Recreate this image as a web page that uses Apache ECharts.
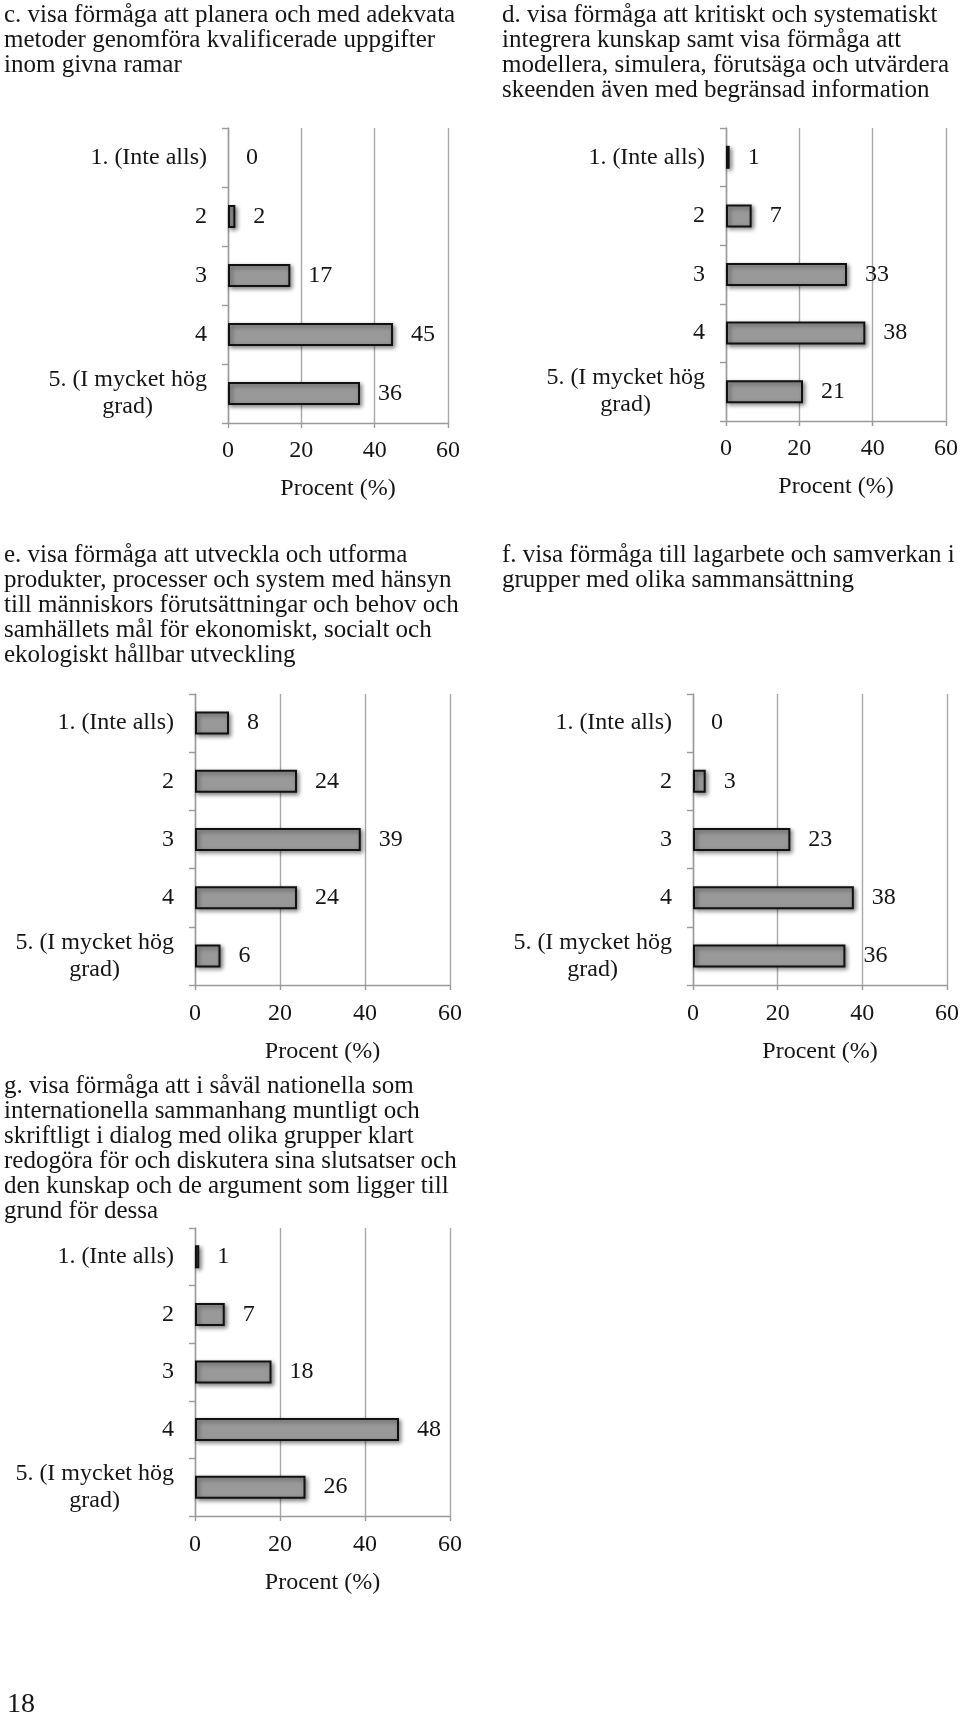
<!DOCTYPE html>
<html><head><meta charset="utf-8">
<script src="https://cdn.jsdelivr.net/npm/echarts@6/dist/echarts.min.js"></script>
<style>html,body{margin:0;padding:0;background:#fff}#chart{width:960px;height:1714px}</style>
</head><body><div id="chart"></div>
<script>
// ---- data ----
const categories = ['1. (Inte alls)', '2', '3', '4', '5. (I mycket hög\ngrad)'];
const xTicks = [0, 20, 40, 60];
const valuesC = [0, 2, 17, 45, 36];
const valuesD = [1, 7, 33, 38, 21];
const valuesE = [8, 24, 39, 24, 6];
const valuesF = [0, 3, 23, 38, 36];
const valuesG = [1, 7, 18, 48, 26];
const titleC = ['c. visa förmåga att planera och med adekvata', 'metoder genomföra kvalificerade uppgifter', 'inom givna ramar'];
const titleD = ['d. visa förmåga att kritiskt och systematiskt', 'integrera kunskap samt visa förmåga att', 'modellera, simulera, förutsäga och utvärdera', 'skeenden även med begränsad information'];
const titleE = ['e. visa förmåga att utveckla och utforma', 'produkter, processer och system med hänsyn', 'till människors förutsättningar och behov och', 'samhällets mål för ekonomiskt, socialt och', 'ekologiskt hållbar utveckling'];
const titleF = ['f. visa förmåga till lagarbete och samverkan i', 'grupper med olika sammansättning'];
const titleG = ['g. visa förmåga att i såväl nationella som', 'internationella sammanhang muntligt och', 'skriftligt i dialog med olika grupper klart', 'redogöra för och diskutera sina slutsatser och', 'den kunskap och de argument som ligger till', 'grund för dessa'];
const axisName = 'Procent (%)';
const pageNumber = '18';

// ---- layout ----
const FONT = '"Liberation Serif", "DejaVu Serif", serif';
const TXT = '#151515';
const TFS = 25, TLH = 25, FS = 24;
const panels = [
  {values: valuesC, title: titleC, tl: 4,   tt: 2.5,  grid: {left: 228, top: 128, width: 220, height: 295}, lm: 16, nameGap: 54},
  {values: valuesD, title: titleD, tl: 502, tt: 2.5,  grid: {left: 726, top: 128, width: 220, height: 293}, lm: 16, nameGap: 54},
  {values: valuesE, title: titleE, tl: 4,   tt: 543,  grid: {left: 195, top: 694, width: 255, height: 291}, lm: 17, nameGap: 55},
  {values: valuesF, title: titleF, tl: 502, tt: 543,  grid: {left: 693, top: 694, width: 254, height: 291}, lm: 17, nameGap: 55},
  {values: valuesG, title: titleG, tl: 4,   tt: 1073.5, grid: {left: 195, top: 1228, width: 255, height: 288}, lm: 17, nameGap: 55}
];

const titles = [], grids = [], xAxes = [], yAxes = [], series = [];
panels.forEach((p, i) => {
  titles.push({
    text: p.title.join('\n'), left: p.tl, top: p.tt, padding: 0,
    textStyle: {fontFamily: FONT, fontSize: TFS, fontWeight: 'normal', lineHeight: TLH, color: TXT}
  });
  grids.push(Object.assign({containLabel: false, outerBoundsMode: 'none'}, p.grid));
  xAxes.push({
    gridIndex: i, type: 'value', min: xTicks[0], max: xTicks[xTicks.length - 1], interval: xTicks[1] - xTicks[0],
    axisLine: {show: true, lineStyle: {color: '#9a9a9a', width: 1.4}},
    axisTick: {show: true, length: 5, lineStyle: {color: '#9a9a9a', width: 1.4}},
    splitLine: {show: true, lineStyle: {color: '#a8a8a8', width: 1.4}},
    axisLabel: {fontFamily: FONT, fontSize: FS, color: TXT, margin: p.lm},
    name: axisName, nameLocation: 'middle', nameGap: p.nameGap,
    nameTextStyle: {fontFamily: FONT, fontSize: FS, color: TXT}
  });
  yAxes.push({
    gridIndex: i, type: 'category', data: categories, inverse: true,
    axisLine: {show: true, lineStyle: {color: '#9a9a9a', width: 1.4}},
    axisTick: {show: true, length: 6, lineStyle: {color: '#9a9a9a', width: 1.4}},
    splitLine: {show: false},
    axisLabel: {
      interval: 0, margin: 21, fontFamily: FONT, fontSize: FS, color: TXT, align: 'right',
      formatter: v => v.indexOf('\n') >= 0 ? v.split('\n').map(s => '{c|' + s + '}').join('\n') : v,
      rich: {c: {align: 'center', fontFamily: FONT, fontSize: FS, lineHeight: 27, color: TXT}}
    }
  });
  series.push({
    type: 'bar', xAxisIndex: i, yAxisIndex: i, barWidth: 23, silent: true, animation: false,
    data: p.values.map(v => v === 0 ? {value: v, itemStyle: {borderWidth: 0, shadowBlur: 0, shadowOffsetX: 0, shadowOffsetY: 0, shadowColor: 'transparent'}} : v),
    itemStyle: {color: '#999999', borderColor: '#111', borderWidth: 2, shadowColor: 'rgba(0,0,0,0.45)', shadowBlur: 4, shadowOffsetX: 2, shadowOffsetY: 2},
    label: {show: true, position: 'right', distance: 18, fontFamily: FONT, fontSize: FS, color: TXT}
  });
});
titles.push({text: pageNumber, left: 7, top: 1691, padding: 0, textStyle: {fontFamily: FONT, fontSize: 28, lineHeight: 28, fontWeight: 'normal', color: TXT}});

const chart = echarts.init(document.getElementById('chart'), null, {renderer: 'canvas'});
chart.setOption({
  backgroundColor: '#fff', animation: false,
  title: titles, grid: grids, xAxis: xAxes, yAxis: yAxes, series: series
});
</script></body></html>
